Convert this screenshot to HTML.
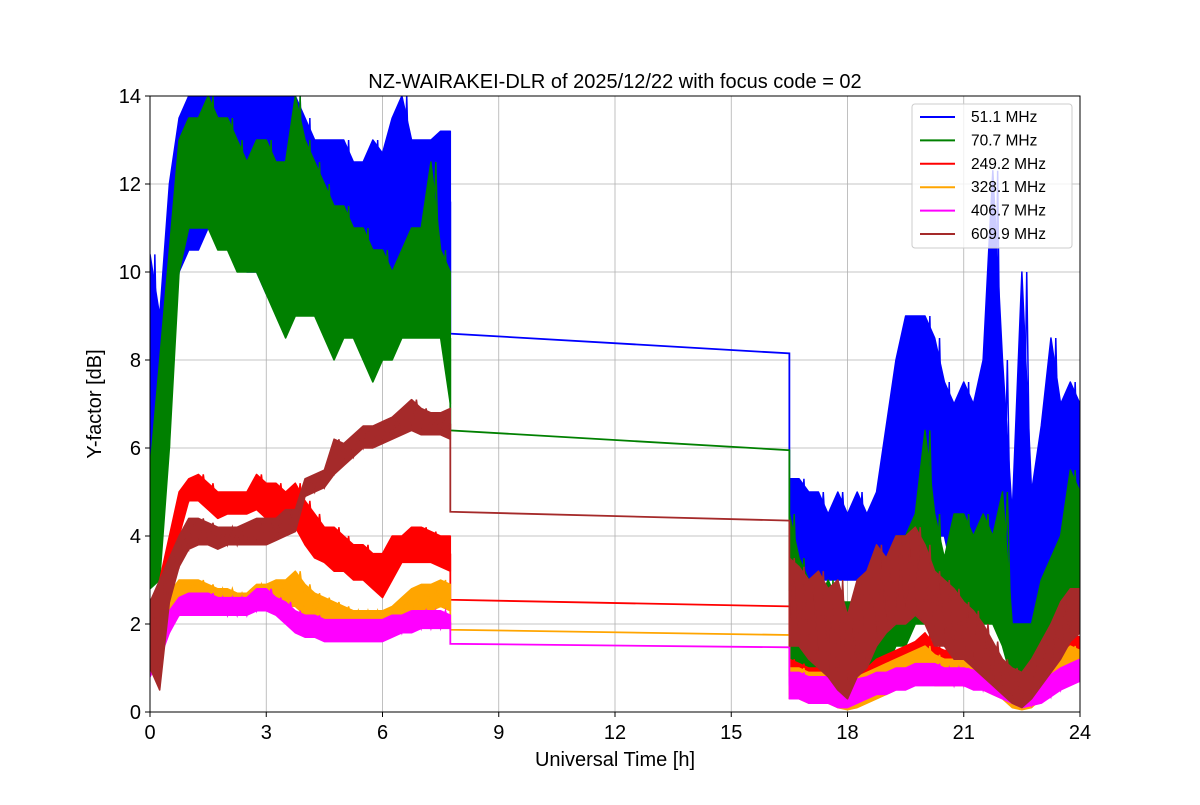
<!DOCTYPE html>
<html><head><meta charset="utf-8"><style>
body{margin:0;background:#fff;}
svg{font-family:"Liberation Sans","DejaVu Sans",sans-serif;}
</style></head><body>
<svg id="chart" width="1200" height="800">
<defs><clipPath id="plotclip"><rect x="150" y="96" width="930" height="616"/></clipPath></defs>
<rect width="1200" height="800" fill="#fff"/>
<text x="615" y="88" font-size="20" text-anchor="middle">NZ-WAIRAKEI-DLR of 2025/12/22 with focus code = 02</text>
<g id="grid"></g><g id="series" clip-path="url(#plotclip)"></g><g id="axes"></g><g id="legend"></g>
<text x="615" y="766" font-size="20" text-anchor="middle">Universal Time [h]</text>
<text transform="translate(101,404) rotate(-90)" font-size="20" text-anchor="middle">Y-factor [dB]</text>
</svg>
<script>
const xTicks=[0,3,6,9,12,15,18,21,24];
const yTicks=[0,2,4,6,8,10,12,14];
const seriesNames=[" 51.1 MHz"," 70.7 MHz","249.2 MHz","328.1 MHz","406.7 MHz","609.9 MHz"];
const seriesColors=["blue","green","red","orange","magenta","brown"];
const t1Start=0, t1Step=0.25;
const t2Start=16.5, t2Step=0.25;
const gapStart=7.75, gapEnd=16.5;
const blueLo1=[3,5,8,10,10.5,10.5,11,11,10.5,10.5,10,10,9.5,9.5,9,9.5,9.5,9,9,9.5,9.5,9.5,9.5,10,9.5,10,10,10,10,10,10.5,10];
const blueHi1=[10.4,9,12,13.5,14,14,14,14,14,14,14,14,14,14,14,14,13.5,13,13,13,13,12.5,12.5,13,12.7,13.5,14,13,13,13,13.2,13.2];
const greenLo1=[2.8,3,6,10,11,11,11,10.5,10.5,10,10,10,9.5,9,8.5,9,9,9,8.5,8,8.5,8.5,8,7.5,8,8,8.5,8.5,8.5,8.5,8.5,7];
const greenHi1=[5.5,8,10.5,13,13.5,13.5,14,13.5,13.5,13,12.5,13,13,12.5,12.5,14,13,12.5,12,11.5,11.5,11,11,10.5,10.5,10,10.5,11,11,12.5,10.5,10];
const redLo1=[1,2,3,4,4.8,4.8,4.6,4.4,4.5,4.5,4.5,4.6,4.4,4.2,4.2,4.2,3.8,3.5,3.4,3.2,3.2,3,3,2.8,2.6,3,3.4,3.4,3.4,3.4,3.3,3.2];
const redHi1=[2.2,3,4,5,5.3,5.4,5.2,5,5,5,5,5.4,5.2,5.2,5,5.2,4.8,4.5,4.2,4.2,4,3.8,3.8,3.6,3.6,4,4,4.2,4.2,4.1,4,4];
const orangeLo1=[1,1.5,2,2.4,2.5,2.5,2.5,2.4,2.4,2.4,2.4,2.5,2.5,2.4,2.4,2.4,2.2,2.2,2,2,2,1.9,1.9,1.9,1.9,2,2.1,2.2,2.3,2.3,2.4,2.3];
const orangeHi1=[1.6,2.2,2.7,3,3,3,2.9,2.8,2.8,2.7,2.7,2.9,2.9,3,3,3.2,2.9,2.7,2.6,2.5,2.4,2.3,2.3,2.3,2.3,2.4,2.6,2.8,2.9,2.9,3,2.9];
const magentaLo1=[0.8,1.2,1.8,2.2,2.2,2.2,2.2,2.2,2.2,2.2,2.2,2.3,2.3,2.2,2,1.8,1.7,1.7,1.6,1.6,1.6,1.6,1.6,1.6,1.6,1.7,1.8,1.8,1.9,1.9,1.9,1.9];
const magentaHi1=[1.3,1.8,2.3,2.6,2.7,2.7,2.7,2.6,2.6,2.6,2.6,2.8,2.8,2.6,2.5,2.3,2.2,2.2,2.1,2.1,2.1,2.1,2.1,2.1,2.1,2.2,2.2,2.3,2.3,2.3,2.3,2.2];
const brownLo1=[1,0.5,2.5,3.3,3.7,3.8,3.8,3.7,3.8,3.8,3.8,3.8,3.8,3.9,4,4.1,4.9,5,5.1,5.4,5.6,5.8,6,6,6.1,6.2,6.3,6.4,6.3,6.3,6.3,6.2];
const brownHi1=[2.5,3,3.5,4,4.4,4.4,4.3,4.2,4.2,4.2,4.3,4.4,4.4,4.4,4.6,4.6,5.3,5.4,5.5,6.2,6.1,6.3,6.5,6.5,6.6,6.7,6.9,7.1,6.9,6.8,6.8,6.9];
const blueLo2=[3.5,3.5,3,3,3,3,3,3,2.5,3,3.5,4,4,4.5,4.5,4,4,3,3,3,3,2,2,1.5,1.5,2,2.5,3,4,4.5,4];
const blueHi2=[5.3,5.3,5,5,4.5,5,4.5,5,4.5,5,6.5,8,9,9,9,8.5,7.5,7,7.5,7,8,12.3,8,4.5,10,5,6.5,8.5,7,7.5,7];
const greenLo2=[1,0.8,0.8,0.8,0.6,0.5,0.5,0.5,0.8,1,1,1.5,1.5,2,2,2,1.5,1.5,1.5,2,2,2,1.5,0.7,0.5,0.7,1,1.5,2,2.5,2.5];
const greenHi2=[4.5,3.5,3,2.5,3,2.5,2.5,2.5,3,3,3,4,4,4.5,6.4,4.5,3.5,4.5,4.5,4,4.5,4,5,2,2,2,3,3.5,4,5.5,5];
const redLo2=[0.4,0.4,0.3,0.3,0.3,0.2,0.1,0.2,0.3,0.4,0.5,0.6,0.7,0.8,0.8,0.7,0.7,0.7,0.7,0.7,0.6,0.5,0.4,0.2,0.1,0.2,0.4,0.6,0.8,1,1];
const redHi2=[1.2,1.1,1,1,1,0.9,0.8,0.9,1,1.2,1.3,1.4,1.5,1.6,1.8,1.5,1.4,1.4,1.3,1.3,1.2,1.1,1,0.8,0.7,0.9,1.1,1.3,1.5,1.8,1.7];
const orangeLo2=[0.3,0.3,0.2,0.2,0.2,0.1,0.05,0.1,0.2,0.3,0.4,0.5,0.6,0.7,0.7,0.6,0.6,0.6,0.6,0.6,0.5,0.4,0.3,0.1,0.05,0.1,0.3,0.5,0.7,0.8,0.8];
const orangeHi2=[1,1,0.9,0.9,0.9,0.8,0.7,0.8,0.9,1,1.1,1.2,1.3,1.4,1.5,1.3,1.2,1.2,1.2,1.1,1,0.9,0.8,0.6,0.5,0.7,0.9,1.1,1.3,1.5,1.4];
const magentaLo2=[0.3,0.3,0.2,0.2,0.2,0.1,0.1,0.2,0.3,0.4,0.4,0.5,0.5,0.6,0.6,0.6,0.6,0.6,0.6,0.5,0.5,0.4,0.3,0.2,0.1,0.15,0.2,0.35,0.5,0.6,0.7];
const magentaHi2=[0.9,0.9,0.8,0.8,0.8,0.7,0.7,0.75,0.8,0.9,0.9,1,1,1.1,1.1,1.1,1,1,1,0.95,0.9,0.85,0.8,0.6,0.5,0.6,0.7,0.85,1,1.1,1.2];
const brownLo2=[1.5,1.5,1.2,1,0.8,0.5,0.3,0.8,1,1.5,1.8,2,2,2.2,2,1.5,1.5,1.2,1.2,1,0.8,0.6,0.4,0.2,0.1,0.3,0.6,0.9,1.2,1.6,1.8];
const brownHi2=[3.5,3.3,3,3.2,2.8,3,2.2,3,3.2,3.8,3.5,4,4,4.2,3.8,3.2,3,2.8,2.5,2.3,2,1.6,1.2,1,0.9,1.2,1.6,2,2.5,2.8,2.8];
const gapFrom=[8.6,6.4,2.55,1.87,1.55,4.55];
const gapTo=[8.15,5.95,2.4,1.75,1.47,4.35];

const lo1=[blueLo1,greenLo1,redLo1,orangeLo1,magentaLo1,brownLo1];
const hi1=[blueHi1,greenHi1,redHi1,orangeHi1,magentaHi1,brownHi1];
const lo2=[blueLo2,greenLo2,redLo2,orangeLo2,magentaLo2,brownLo2];
const hi2=[blueHi2,greenHi2,redHi2,orangeHi2,magentaHi2,brownHi2];

const X0=150,X1=1080,Y0=712,Y1=96;
const xs=t=>X0+(t/24)*(X1-X0);
const ys=v=>Y0-(v/14)*(Y0-Y1);
const NS="http://www.w3.org/2000/svg";
function mk(tag,attrs,parent){const e=document.createElementNS(NS,tag);for(const k in attrs)e.setAttribute(k,attrs[k]);parent.appendChild(e);return e;}
const grid=document.getElementById('grid'),axes=document.getElementById('axes'),ser=document.getElementById('series'),leg=document.getElementById('legend');
xTicks.forEach(t=>{
  const g=mk('line',{x1:xs(t),x2:xs(t),y1:Y1,y2:Y0,stroke:'#b0b0b0','stroke-width':0.8},grid);
  
  
  const tk=mk('line',{x1:xs(t),x2:xs(t),y1:Y0,y2:Y0+5,stroke:'#000'},axes);
  
  
  const tx=mk('text',{x:xs(t),y:Y0+27,'font-size':20,'text-anchor':'middle'},axes);tx.textContent=t;
  
  
});
yTicks.forEach(v=>{
  const g=mk('line',{x1:X0,x2:X1,y1:ys(v),y2:ys(v),stroke:'#b0b0b0','stroke-width':0.8},grid);
  
  
  const tk=mk('line',{x1:X0-5,x2:X0,y1:ys(v),y2:ys(v),stroke:'#000'},axes);
  
  
  const tx=mk('text',{x:X0-9,y:ys(v)+7,'font-size':20,'text-anchor':'end'},axes);tx.textContent=v;
  
  
});
const fr=mk('rect',{x:X0,y:Y1,width:X1-X0,height:Y0-Y1,fill:'none',stroke:'#000','stroke-width':1},axes);



function band(lo,hi,t0,dt){
  let p=[];
  lo.forEach((v,i)=>p.push(xs(t0+i*dt)+','+ys(v)));
  for(let i=hi.length-1;i>=0;i--)p.push(xs(t0+i*dt)+','+ys(hi[i]));
  return p.join(' ');
}
function zig(lo,hi,t0,dt){
  let p=[];
  lo.forEach((v,i)=>{const t=t0+i*dt;p.push(xs(t)+','+ys(v));if(i<lo.length-1)p.push(xs(t+dt/2)+','+ys(hi[i]));});
  return p.join(' ');
}
seriesColors.forEach((c,k)=>{
  const g=mk('g',{},ser);
  
  
  const b1=mk('polygon',{points:band(lo1[k],hi1[k],t1Start,t1Step),fill:c,stroke:c,'stroke-width':1.5,'stroke-linejoin':'round'},g);
  
  
  const z1=mk('polyline',{points:zig(lo1[k],hi1[k],t1Start,t1Step),fill:'none',stroke:c,'stroke-width':1.5},g);
  
  
  const n1=lo1[k].length-1;
  const m1=(lo1[k][n1]+hi1[k][n1])/2, m2=(lo2[k][0]+hi2[k][0])/2;
  const gl=mk('polyline',{points:[xs(gapStart)+','+ys(m1),xs(gapStart)+','+ys(gapFrom[k]),xs(gapEnd)+','+ys(gapTo[k]),xs(gapEnd)+','+ys(m2)].join(' '),fill:'none',stroke:c,'stroke-width':1.8},g);
  
  
  const b2=mk('polygon',{points:band(lo2[k],hi2[k],t2Start,t2Step),fill:c,stroke:c,'stroke-width':1.5,'stroke-linejoin':'round'},g);
  
  
  const z2=mk('polyline',{points:zig(lo2[k],hi2[k],t2Start,t2Step),fill:'none',stroke:c,'stroke-width':1.5},g);
  
  
});
const lb=mk('rect',{x:912,y:104,width:160,height:144,rx:3,fill:'#fff','fill-opacity':0.8,stroke:'#ccc'},leg);


seriesNames.forEach((n,k)=>{
  const y=117+k*23.4;
  const l=mk('line',{x1:920,x2:955,y1:y,y2:y,stroke:seriesColors[k],'stroke-width':2},leg);
  
  
  const t=mk('text',{x:971,y:y+5,'font-size':15.5,'xml:space':'preserve'},leg);t.textContent=n;
  
  
});
</script>
</body></html>
